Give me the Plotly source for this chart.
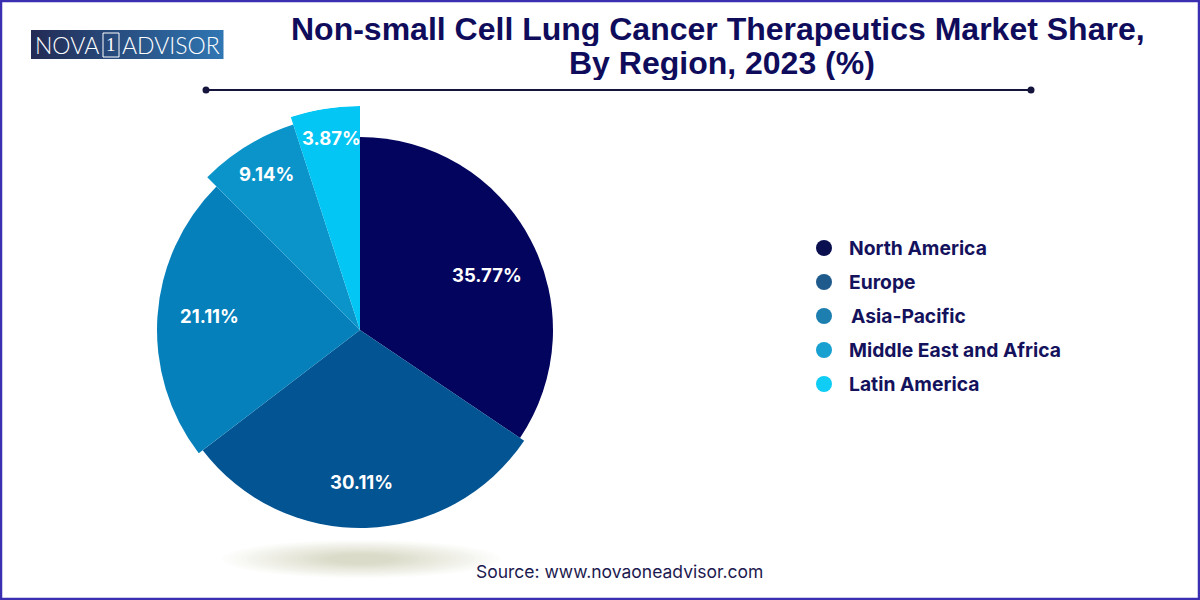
import numpy as np
import plotly.graph_objects as go

# data
regions = ["North America", "Europe", "Asia-Pacific", "Middle East and Africa", "Latin America"]
shares = [35.77, 30.11, 21.11, 9.14, 3.87]
# the drawn wedges do not quite follow the printed shares, so their spans are read separately
spans = [124.0, 108.6, 82.4, 27.0, 18.0]
radii = [193, 198, 203, 216, 224]
colors = ["#03045e", "#035492", "#0580bb", "#0b94c9", "#03c6f4"]
legend_colors = ["#0a0f4f", "#1f5a8c", "#1c7fb0", "#18a0d0", "#0fcdf5"]

W, H = 1200, 600
NAVY = "#0f0c5c"
CX, CY = 360, 330
RMAX = 224


def px(x):
    return x / W


def py(y):
    return 1 - y / H


starts = np.cumsum([0] + spans[:-1])
mids = starts + np.array(spans) / 2

fig = go.Figure(
    go.Barpolar(
        r=radii,
        theta=mids,
        width=spans,
        marker={"color": colors, "line": {"width": 0}},
        hoverinfo="skip",
    )
)

fig.update_layout(
    width=W,
    height=H,
    margin={"l": 0, "r": 0, "t": 0, "b": 0},
    paper_bgcolor="white",
    showlegend=False,
    polar={
        "domain": {
            "x": [px(CX - RMAX), px(CX + RMAX)],
            "y": [py(CY + RMAX), py(CY - RMAX)],
        },
        "bgcolor": "rgba(0,0,0,0)",
        "radialaxis": {"visible": False, "range": [0, RMAX]},
        "angularaxis": {"visible": False, "rotation": 90, "direction": "clockwise"},
    },
)


def rect(x0, y0, x1, y1, **kw):
    fig.add_shape(type="rect", xref="paper", yref="paper",
                  x0=px(x0), x1=px(x1), y0=py(y0), y1=py(y1), **kw)


def ellipse(x0, y0, x1, y1, **kw):
    fig.add_shape(type="circle", xref="paper", yref="paper",
                  x0=px(x0), x1=px(x1), y0=py(y0), y1=py(y1), **kw)


def text(x, y, s, size, color, family="Inter", anchor="center", weight=None, height=None):
    font = {"size": size, "color": color, "family": family}
    if weight:
        font["weight"] = weight
    fig.add_annotation(xref="paper", yref="paper", x=px(x), y=py(y), text=s,
                       showarrow=False, xanchor=anchor, yanchor="middle",
                       font=font, height=height, borderpad=0)


# outer frame
rect(1, 1, W - 1, H - 1, line={"color": "#3a2fb0", "width": 2.5})

# logo, gradient built from narrow strips
n_strips = 48
for i in range(n_strips):
    t = i / (n_strips - 1)
    r = int(35 + (48 - 35) * t)
    g = int(44 + (118 - 44) * t)
    b = int(86 + (178 - 86) * t)
    x0 = 31 + (223 - 31) * i / n_strips
    rect(x0, 30, x0 + (223 - 31) / n_strips + 0.5, 59,
         fillcolor=f"rgb({r},{g},{b})", line={"width": 0})
rect(103, 33, 119, 57, line={"color": "white", "width": 1})
text(67, 45, "NOVA", 23, "white", "Lato", weight=300)
text(111, 45, "1", 19, "white", "Liberation Serif")
text(171, 45, "ADVISOR", 23, "white", "Lato", weight=300)

# title and rule, two boxes so the line spacing can stay as tight as the reference
text(718, 29, "<b>Non-small Cell Lung Cancer Therapeutics Market Share,</b>", 32, NAVY,
     "Liberation Sans", height=34)
text(722, 63, "<b>By Region, 2023 (%)</b>", 32, NAVY, "Liberation Sans", height=34)
fig.add_shape(type="line", xref="paper", yref="paper", x0=px(206), x1=px(1031),
              y0=py(90), y1=py(90), line={"color": "#14143c", "width": 2})
for x in [206, 1031]:
    ellipse(x - 3.5, 86.5, x + 3.5, 93.5, fillcolor="#14143c", line={"width": 0})

# slice labels
label_pos = [(487, 275), (361, 482), (209, 316), (266, 174), (331, 138)]
for (x, y), v in zip(label_pos, shares):
    text(x, y, f"<b>{v:.2f}%</b>", 18.5, "white")

# legend
for i, (name, c) in enumerate(zip(regions, legend_colors)):
    y = 248 + 34 * i
    ellipse(816, y - 8, 832, y + 8, fillcolor=c, line={"width": 0})
    text(850 if name == "Asia-Pacific" else 848, y, f"<b>{name}</b>", 19.3, "#14125c", anchor="left")

# shadow under the pie
for i in range(18):
    t = i / 17
    ellipse(222 + 105 * t, 540 + 14 * t, 500 - 105 * t, 578 - 14 * t,
            fillcolor="#7a7458", opacity=0.014, line={"width": 0}, layer="below")

text(619, 571, "Source: www.novaoneadvisor.com", 17.5, "#1d1a50")

# the page's default body margin would push the figure off the window origin
fig.write_html("out.html", config={"displayModeBar": False},
               post_script="document.body.style.margin = '0';")
